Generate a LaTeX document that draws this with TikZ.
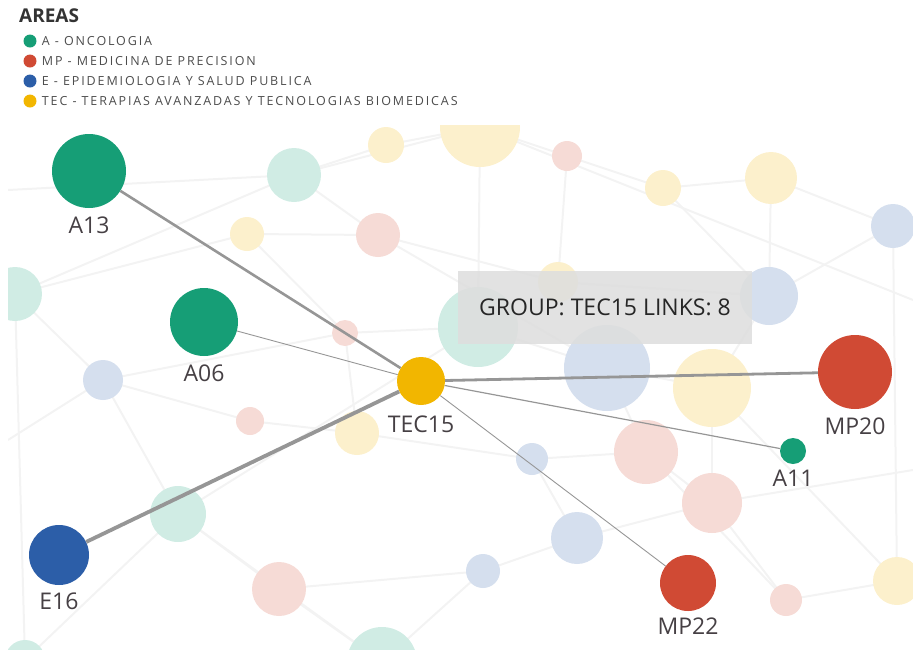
\documentclass[tikz,border=0pt]{standalone}
\usepackage{fontspec}
\setmainfont{Open Sans}
\newfontfamily\legendfont[LetterSpace=15]{Open Sans}
\usetikzlibrary{positioning}

\definecolor{areaA}{RGB}{22,158,118}
\definecolor{areaMP}{RGB}{208,74,52}
\definecolor{areaE}{RGB}{44,94,168}
\definecolor{areaTEC}{RGB}{242,182,0}
\definecolor{labelgray}{RGB}{70,64,68}
\definecolor{edgegray}{RGB}{150,150,150}
\definecolor{webgray}{RGB}{243,243,243}

\begin{document}
\begin{tikzpicture}[
    x=1pt, y=-1pt,
    font=\fontsize{23}{26}\selectfont,
    grp/.style={circle, inner sep=0pt, minimum size=#1},
    lbl/.style={text=labelgray, inner sep=1pt},
    link/.style={draw=edgegray, line width=#1},
    web/.style={draw=webgray, line width=2pt},
    legdot/.style={circle, inner sep=0pt, minimum size=13pt},
    legtxt/.style={font=\legendfont\fontsize{12.5}{14}\selectfont, text=black!70, inner sep=0pt, anchor=west}
  ]
    \useasboundingbox (0,0) rectangle (913,649);

    % legend
    \node[anchor=west, inner sep=0pt, font=\bfseries\fontsize{19}{21}\selectfont, text=black!80] (areas) at (19,16) {AREAS};
    \node[legdot, fill=areaA] (dA) at (30,41) {};
    \node[legdot, fill=areaMP] (dMP) at (30,61) {};
    \node[legdot, fill=areaE] (dE) at (30,81) {};
    \node[legdot, fill=areaTEC] (dTEC) at (30,101) {};
    \node[legtxt, right=5pt of dA] (tA) {A - ONCOLOGIA};
    \node[legtxt, right=5pt of dMP] (tMP) {MP - MEDICINA DE PRECISION};
    \node[legtxt, right=5pt of dE] (tE) {E - EPIDEMIOLOGIA Y SALUD PUBLICA};
    \node[legtxt, right=5pt of dTEC] (tTEC) {TEC - TERAPIAS AVANZADAS Y TECNOLOGIAS BIOMEDICAS};

    % faded background network
    \begin{scope}
      \clip (8,125) rectangle (913,649);
      \foreach \n/\x/\y/\r/\c in {g1/294/175/27/areaA, y1/386/145/18/areaTEC, y2/480/127/40/areaTEC,
          p1/567/156/15/areaMP, y3/663/188/18/areaTEC, y4/771/178/26/areaTEC, b1/893/226/22/areaE,
          y5/247/234/17/areaTEC, p2/378/235/22/areaMP, g2/15/294/27/areaA, b2/769/296/29/areaE,
          g3/478/327/40/areaA, p3/345/333/13/areaMP, y6/558/282/20/areaTEC, b3/607/368/43/areaE,
          y7/712/388/39/areaTEC, b4/103/380/20/areaE, p4/250/421/14/areaMP, y8/357/433/22/areaTEC,
          g4/178/514/28/areaA, p5/646/452/32/areaMP, p6/712/503/30/areaMP, b5/532/459/16/areaE,
          b6/577/538/26/areaE, b7/483/571/17/areaE, p7/279/589/27/areaMP, g5/382/662/35/areaA,
          p8/786/600/16/areaMP, y9/897/581/24/areaTEC, g6/25/660/20/areaA}
        \coordinate (\n) at (\x,\y);
      \foreach \a/\b in {g2/g1, g2/b4, g2/y5, g1/y1, g1/p2, g1/y2, y5/p2, p2/y6, p2/b3, y1/y2,
          y2/p1, y2/g3, p1/y3, y3/y4, y4/b1, y4/b2, b2/b1, b2/y7, y6/b2, g3/b3, b3/y7, b3/p5,
          y7/p6, p5/p6, p5/b5, b5/b6, b6/b7, b6/p6, p6/p8, p8/y9, b1/y9, b4/p4, p4/y8, b4/g4,
          g4/p7, g4/g5, p7/g5, p7/b7, y8/b5, g5/b7, p3/y8, p3/y5, g2/g6, g6/g4, y3/b2, p1/y6,
          g3/p3, y7/y9, p5/p8, b4/p3}
        \draw[web] (\a) -- (\b);
      \draw[web] (8,190) -- (g1);
      \draw[web] (8,440) -- (b4);
      \draw[web] (p6) -- (913,470);
      \draw[web] (y2) -- (913,300);
      \draw[web] (g4) -- (g3);
      \foreach \n/\x/\y/\r/\c in {g1/294/175/27/areaA, y1/386/145/18/areaTEC, y2/480/127/40/areaTEC,
          p1/567/156/15/areaMP, y3/663/188/18/areaTEC, y4/771/178/26/areaTEC, b1/893/226/22/areaE,
          y5/247/234/17/areaTEC, p2/378/235/22/areaMP, g2/15/294/27/areaA, b2/769/296/29/areaE,
          g3/478/327/40/areaA, p3/345/333/13/areaMP, y6/558/282/20/areaTEC, b3/607/368/43/areaE,
          y7/712/388/39/areaTEC, b4/103/380/20/areaE, p4/250/421/14/areaMP, y8/357/433/22/areaTEC,
          g4/178/514/28/areaA, p5/646/452/32/areaMP, p6/712/503/30/areaMP, b5/532/459/16/areaE,
          b6/577/538/26/areaE, b7/483/571/17/areaE, p7/279/589/27/areaMP, g5/382/662/35/areaA,
          p8/786/600/16/areaMP, y9/897/581/24/areaTEC, g6/25/660/20/areaA}
        \fill[\c!20] (\x,\y) circle[radius=\r];
    \end{scope}

    % tooltip
    \node[fill=black!13, fill opacity=0.88, text opacity=1, minimum width=294pt, minimum height=73pt,
      font=\fontsize{23}{26}\selectfont, text=black!85] (tip) at (605,307) {GROUP: TEC15 LINKS: 8};

    % highlighted groups
    \node[grp=74pt, fill=areaA] (a13) at (89,171) {};
    \node[grp=68pt, fill=areaA] (a06) at (204,322) {};
    \node[grp=48pt, fill=areaTEC] (tec15) at (421,381) {};
    \node[grp=74pt, fill=areaMP] (mp20) at (855,372) {};
    \node[grp=26pt, fill=areaA] (a11) at (793,451) {};
    \node[grp=56pt, fill=areaMP] (mp22) at (688,583) {};
    \node[grp=60pt, fill=areaE] (e16) at (59,555) {};

    \node[lbl, below=7pt of a13] (a13l) {A13};
    \node[lbl, below=7pt of a06] (a06l) {A06};
    \node[lbl, below=9pt of tec15] (tec15l) {TEC15};
    \node[lbl, below=7pt of mp20] (mp20l) {MP20};
    \node[lbl, below=5pt of a11] (a11l) {A11};
    \node[lbl, below=5pt of mp22] (mp22l) {MP22};
    \node[lbl, below=6pt of e16] (e16l) {E16};

    % links of TEC15
    \draw[link=2.6pt] (tec15) -- (a13);
    \draw[link=0.9pt] (tec15) -- (a06);
    \draw[link=3.8pt] (tec15) -- (e16);
    \draw[link=2.8pt] (tec15) -- (mp20);
    \draw[link=1.2pt] (tec15) -- (a11);
    \draw[link=0.9pt] (tec15) -- (mp22);
  \end{tikzpicture}
\end{document}
